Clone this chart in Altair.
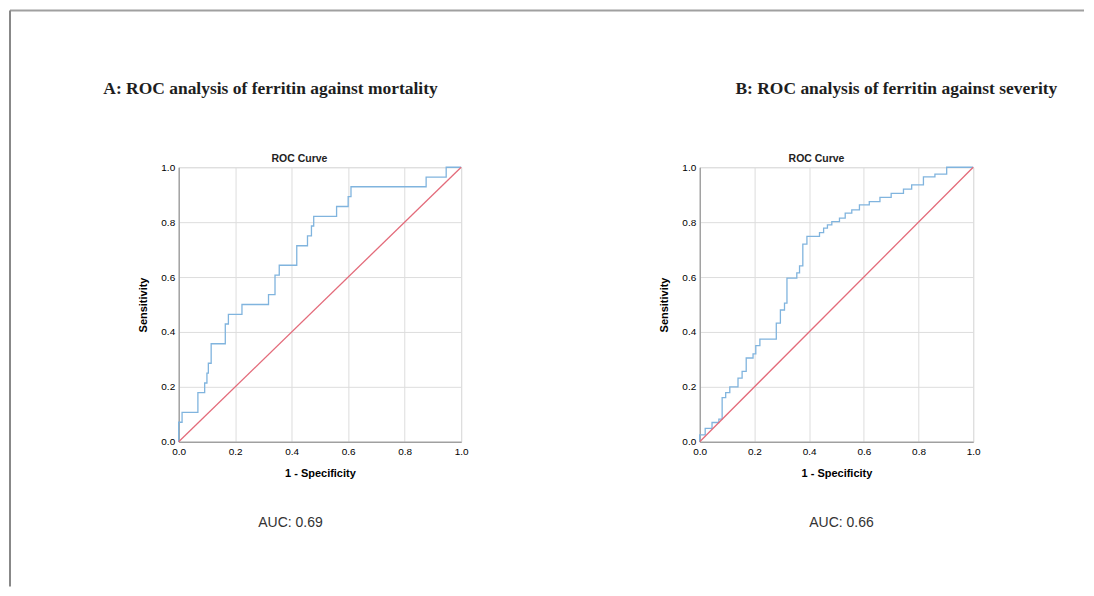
import altair as alt
import pandas as pd

# Panel A: ROC of ferritin against mortality (1 - specificity, sensitivity)
a_fpr = [0.0, 0.0, 0.012, 0.068, 0.092, 0.100, 0.105, 0.115, 0.165, 0.176, 0.224,
         0.318, 0.341, 0.356, 0.418, 0.456, 0.470, 0.478, 0.559, 0.600, 0.610,
         0.876, 0.947, 1.0]
a_tpr = [0.0, 0.071, 0.107, 0.179, 0.214, 0.250, 0.286, 0.357, 0.429, 0.464, 0.500,
         0.536, 0.607, 0.643, 0.714, 0.750, 0.786, 0.821, 0.857, 0.893, 0.929,
         0.964, 1.0, 1.0]

# Panel B: ROC of ferritin against severity
b_fpr = [0.0, 0.0, 0.020, 0.045, 0.070, 0.082, 0.095, 0.110, 0.140, 0.155, 0.170,
         0.195, 0.205, 0.220, 0.280, 0.295, 0.310, 0.319, 0.355, 0.365, 0.377,
         0.392, 0.438, 0.453, 0.467, 0.483, 0.511, 0.532, 0.556, 0.584, 0.620,
         0.659, 0.700, 0.745, 0.775, 0.818, 0.860, 0.903, 1.0]
b_tpr = [0.0, 0.025, 0.049, 0.070, 0.082, 0.161, 0.179, 0.200, 0.232, 0.256, 0.305,
         0.320, 0.350, 0.374, 0.432, 0.480, 0.505, 0.596, 0.615, 0.641, 0.720,
         0.748, 0.762, 0.778, 0.790, 0.802, 0.815, 0.833, 0.845, 0.863, 0.875,
         0.890, 0.905, 0.920, 0.936, 0.965, 0.975, 1.0, 1.0]

diag_x = [0.0, 1.0]
diag_y = [0.0, 1.0]
ticks = [0.0, 0.2, 0.4, 0.6, 0.8, 1.0]

titles = ["A: ROC analysis of ferritin against mortality",
          "B: ROC analysis of ferritin against severity"]
aucs = ["AUC: 0.69", "AUC: 0.66"]

BLUE = "#80b4de"
RED = "#e36b7a"


def panel(fpr, tpr, width, title, auc, title_x, roc_x, auc_x, border=False):
    roc = pd.DataFrame({"fpr": fpr, "tpr": tpr, "i": list(range(len(fpr)))})
    diag = pd.DataFrame({"fpr": diag_x, "tpr": diag_y})
    xenc = alt.X("fpr:Q", scale=alt.Scale(domain=[0, 1], nice=False),
                 axis=alt.Axis(values=ticks, format=".1f", title="1 - Specificity",
                               labelFlush=False, ticks=False, labelPadding=5,
                               titlePadding=11))
    yenc = alt.Y("tpr:Q", scale=alt.Scale(domain=[0, 1], nice=False),
                 axis=alt.Axis(values=ticks, format=".1f", title="Sensitivity",
                               ticks=False, labelPadding=4, titlePadding=12))
    curve = alt.Chart(roc).mark_line(color=BLUE, strokeWidth=1.3,
                                     interpolate="step-after").encode(
        x=xenc, y=yenc, order="i:Q")
    ref = alt.Chart(diag).mark_line(color=RED, strokeWidth=1.3).encode(
        x="fpr:Q", y="tpr:Q")
    big = alt.Chart(pd.DataFrame({"t": [title]})).mark_text(
        font="Liberation Serif", fontSize=17.5, fontWeight="bold", color="#1e1e1e",
        align="center", baseline="alphabetic").encode(
        text="t:N", x=alt.value(title_x), y=alt.value(-73))
    roct = alt.Chart(pd.DataFrame({"t": ["ROC Curve"]})).mark_text(
        font="Liberation Sans", fontSize=10.5, fontWeight="bold", color="#222",
        align="center", baseline="alphabetic").encode(
        text="t:N", x=alt.value(roc_x), y=alt.value(-5))
    auct = alt.Chart(pd.DataFrame({"t": [auc]})).mark_text(
        font="Liberation Sans", fontSize=14, color="#333",
        align="center", baseline="alphabetic").encode(
        text="t:N", x=alt.value(auc_x), y=alt.value(360))
    layers = [curve, ref, big, roct, auct]
    if border:
        top = alt.Chart(pd.DataFrame({"t": [0]})).mark_rule(
            color="#a0a0a0", strokeWidth=2).encode(
            x=alt.value(-169), x2=alt.value(907), y=alt.value(-157))
        left = alt.Chart(pd.DataFrame({"t": [0]})).mark_rule(
            color="#888888", strokeWidth=2).encode(
            x=alt.value(-169), y=alt.value(-157), y2=alt.value(420))
        layers += [top, left]
    return alt.layer(*layers).properties(width=width, height=275)


pa = panel(a_fpr, a_tpr, 283, titles[0], aucs[0], 92, 121, 112, border=True)
pb = panel(b_fpr, b_tpr, 274, titles[1], aucs[1], 197, 117, 142)

chart = alt.hconcat(pa, pb, spacing=239, bounds="flush", padding=0).configure_view(
    strokeWidth=0
).configure_axis(
    domainColor="#a8a8a8", domainWidth=1.5, gridColor="#dcdcdc", gridWidth=1,
    ticks=False, labelFont="Liberation Sans", labelFontSize=7, labelColor="#808080",
    titleFont="Liberation Sans", titleFontSize=10,
    titleFontWeight="bold", titleColor="#222"
).configure(background="white")

chart.save("out.html", embed_options={"renderer": "svg", "actions": False})
